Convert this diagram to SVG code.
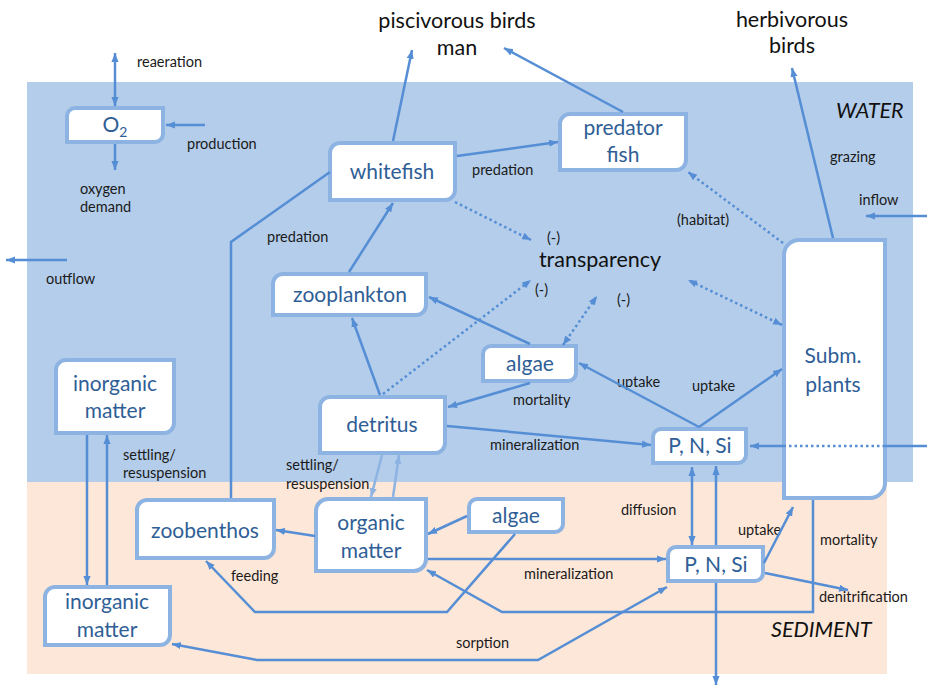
<svg xmlns="http://www.w3.org/2000/svg" width="927" height="685" viewBox="0 0 927 685">
<defs>
<marker id="ah" viewBox="0 0 10 8" refX="10" refY="4" markerWidth="9" markerHeight="7.5" markerUnits="userSpaceOnUse" orient="auto-start-reverse"><path d="M0,0 L10,4 L0,8 z" fill="#558ed5"/></marker>
<marker id="ahl" viewBox="0 0 10 8" refX="10" refY="4" markerWidth="9" markerHeight="7.5" markerUnits="userSpaceOnUse" orient="auto-start-reverse"><path d="M0,0 L10,4 L0,8 z" fill="#8db3e2"/></marker>
</defs>
<style>
.box{fill:#fff;stroke:#8db3e2;stroke-width:4}
.nt{font-family:Lato,"Open Sans",sans-serif;font-size:21px;fill:#2f5e96;text-anchor:middle}
.lb{font-family:Lato,"Open Sans",sans-serif;font-size:14.5px;fill:#1a1a1a}
.bg{font-family:Lato,"Open Sans",sans-serif;font-size:21.5px;fill:#111}
.c{fill:none;stroke:#558ed5;stroke-width:2.5}
.cl{fill:none;stroke:#8db3e2;stroke-width:2.5}
.d{fill:none;stroke:#558ed5;stroke-width:2.5;stroke-dasharray:2.5 3}
.e{marker-end:url(#ah)}
.s{marker-start:url(#ah)}
</style>
<rect x="0" y="0" width="927" height="685" fill="#fff"/>
<rect x="27" y="82" width="886" height="400" fill="#b3cdea"/>
<rect x="27" y="482" width="860" height="192" fill="#fde7d8"/>

<g id="labels">
<text class="lb" x="137" y="67">reaeration</text>
<text class="lb" x="187" y="149">production</text>
<text class="lb" x="80" y="194">oxygen</text>
<text class="lb" x="80" y="212">demand</text>
<text class="lb" x="46" y="284">outflow</text>
<text class="lb" x="267" y="242">predation</text>
<text class="lb" x="472" y="175">predation</text>
<text class="lb" x="547" y="243">(-)</text>
<text class="lb" x="535" y="295">(-)</text>
<text class="lb" x="617" y="305">(-)</text>
<text class="lb" x="677" y="225">(habitat)</text>
<text class="lb" x="830" y="162">grazing</text>
<text class="lb" x="859" y="205">inflow</text>
<text class="lb" x="617" y="387">uptake</text>
<text class="lb" x="692" y="391">uptake</text>
<text class="lb" x="513" y="405">mortality</text>
<text class="lb" x="490" y="450">mineralization</text>
<text class="lb" x="123" y="460">settling/</text>
<text class="lb" x="123" y="478">resuspension</text>
<text class="lb" x="286" y="470">settling/</text>
<text class="lb" x="286" y="489">resuspension</text>
<text class="lb" x="621" y="515">diffusion</text>
<text class="lb" x="738" y="535">uptake</text>
<text class="lb" x="820" y="545">mortality</text>
<text class="lb" x="231" y="581">feeding</text>
<text class="lb" x="524" y="579">mineralization</text>
<text class="lb" x="819" y="602">denitrification</text>
<text class="lb" x="456" y="648">sorption</text>
<text class="bg" x="457" y="28" text-anchor="middle">piscivorous birds</text>
<text class="bg" x="457" y="55" text-anchor="middle">man</text>
<text class="bg" x="792" y="27" text-anchor="middle">herbivorous</text>
<text class="bg" x="792" y="53" text-anchor="middle">birds</text>
<text class="bg" x="600" y="267" text-anchor="middle">transparency</text>
<text class="bg" x="836" y="118" font-style="italic">WATER</text>
<text class="bg" x="771" y="637" font-style="italic">SEDIMENT</text>
</g>

<g id="nodes">
<g id="o2"><path class="box" d="M67,116 A8,8 0 0 1 75,108 H163 V134 A8,8 0 0 1 155,142 H67 Z"/><text class="nt" x="115" y="132">O<tspan font-size="14" dy="5">2</tspan></text></g>
<g id="whitefish"><path class="box" d="M330,153 A10,10 0 0 1 340,143 H455 V190 A10,10 0 0 1 445,200 H330 Z"/><text class="nt" x="392" y="179">whitefish</text></g>
<g id="predator"><path class="box" d="M560,124 A10,10 0 0 1 570,114 H686 V160 A10,10 0 0 1 676,170 H560 Z"/><text class="nt" x="623" y="135">predator</text><text class="nt" x="623" y="162">fish</text></g>
<g id="zooplankton"><path class="box" d="M273,284 A10,10 0 0 1 283,274 H426 V305 A10,10 0 0 1 416,315 H273 Z"/><text class="nt" x="350" y="302">zooplankton</text></g>
<g id="algae-w"><path class="box" d="M483,354 A8,8 0 0 1 491,346 H576 V373 A8,8 0 0 1 568,381 H483 Z"/><text class="nt" x="530" y="371">algae</text></g>
<g id="detritus"><path class="box" d="M320,407 A10,10 0 0 1 330,397 H445 V443 A10,10 0 0 1 435,453 H320 Z"/><text class="nt" x="382" y="432">detritus</text></g>
<g id="pns-w"><path class="box" d="M653,437 A8,8 0 0 1 661,429 H746 V455 A8,8 0 0 1 738,463 H653 Z"/><text class="nt" x="700" y="453">P, N, Si</text></g>
<g id="subm"><path class="box" d="M784,255 A15,15 0 0 1 799,240 H885 V483 A15,15 0 0 1 870,498 H784 Z"/><text class="nt" x="833" y="363">Subm.</text><text class="nt" x="833" y="392">plants</text></g>
<g id="inorg-w"><path class="box" d="M56,370 A10,10 0 0 1 66,360 H174 V423 A10,10 0 0 1 164,433 H56 Z"/><text class="nt" x="115" y="391">inorganic</text><text class="nt" x="115" y="418">matter</text></g>
<g id="zoobenthos"><path class="box" d="M137,510 A10,10 0 0 1 147,500 H274 V548 A10,10 0 0 1 264,558 H137 Z"/><text class="nt" x="205" y="538">zoobenthos</text></g>
<g id="organic"><path class="box" d="M316,511 A12,12 0 0 1 328,499 H426 V559 A12,12 0 0 1 414,571 H316 Z"/><text class="nt" x="371" y="530">organic</text><text class="nt" x="371" y="558">matter</text></g>
<g id="algae-s"><path class="box" d="M469,507 A8,8 0 0 1 477,499 H563 V524 A8,8 0 0 1 555,532 H469 Z"/><text class="nt" x="516" y="523">algae</text></g>
<g id="pns-s"><path class="box" d="M668,555 A8,8 0 0 1 676,547 H763 V573 A8,8 0 0 1 755,581 H668 Z"/><text class="nt" x="716" y="572">P, N, Si</text></g>
<g id="inorg-s"><path class="box" d="M45,597 A10,10 0 0 1 55,587 H170 V635 A10,10 0 0 1 160,645 H45 Z"/><text class="nt" x="107" y="609">inorganic</text><text class="nt" x="107" y="637">matter</text></g>
</g>

<g id="connectors">
<line class="c e s" x1="115" y1="53" x2="115" y2="106"/>
<line class="c e" x1="205" y1="125" x2="166" y2="125"/>
<line class="c e" x1="115" y1="144" x2="115" y2="170"/>
<line class="c e" x1="67" y1="260" x2="6" y2="260"/>
<line class="c e" x1="393" y1="141" x2="412" y2="50"/>
<line class="c e" x1="623" y1="112" x2="504" y2="48"/>
<line class="c e" x1="457" y1="156" x2="558" y2="142"/>
<polyline class="c" points="231,498 231,242 330,172"/>
<line class="c e" x1="349" y1="272" x2="393" y2="203"/>
<line class="c e" x1="380" y1="395" x2="352" y2="318"/>
<line class="c e" x1="530" y1="344" x2="429" y2="297"/>
<line class="c e" x1="530" y1="383" x2="448" y2="407"/>
<line class="c e" x1="447" y1="426" x2="651" y2="445"/>
<line class="c e" x1="699" y1="427" x2="579" y2="363"/>
<line class="c e" x1="699" y1="427" x2="782" y2="369"/>
<line class="c e" x1="833" y1="238" x2="792" y2="68"/>
<line class="c e" x1="927" y1="216" x2="866" y2="216"/>
<line class="c" x1="927" y1="446" x2="885" y2="446"/>
<line class="d" x1="885" y1="446" x2="786" y2="446"/>
<line class="c e" x1="786" y1="446" x2="750" y2="446"/>
<line class="d e" x1="783" y1="243" x2="688" y2="172"/>
<line class="d e s" x1="782" y1="325" x2="688" y2="280"/>
<line class="d e" x1="455" y1="202" x2="531" y2="240"/>
<line class="d e" x1="383" y1="394" x2="531" y2="280"/>
<line class="d e s" x1="563" y1="345" x2="597" y2="296"/>
<line class="c e s" x1="692" y1="467" x2="692" y2="545"/>
<line class="c e" x1="716" y1="545" x2="716" y2="466"/>
<line class="c e" x1="716" y1="583" x2="716" y2="685"/>
<line class="c e" x1="764" y1="563" x2="793" y2="507"/>
<line class="c e" x1="765" y1="573" x2="848" y2="590"/>
<polyline class="c e" points="813,500 813,612 502,612 427,570"/>
<polyline class="c e s" points="667,587 538,660 257,660 172,644"/>
<polyline class="c e" points="515,534 447,612 255,612 206,561"/>
<line class="c e" x1="315" y1="536" x2="276" y2="530"/>
<line class="c e" x1="467" y1="516" x2="428" y2="534"/>
<line class="c e" x1="428" y1="559" x2="666" y2="559"/>
<line class="cl" x1="382" y1="455" x2="371" y2="497" marker-end="url(#ahl)"/>
<line class="cl" x1="393" y1="497" x2="399" y2="455" marker-end="url(#ahl)"/>
<line class="c e" x1="87" y1="435" x2="87" y2="585"/>
<line class="c e" x1="107" y1="585" x2="107" y2="435"/>
</g>
</svg>
